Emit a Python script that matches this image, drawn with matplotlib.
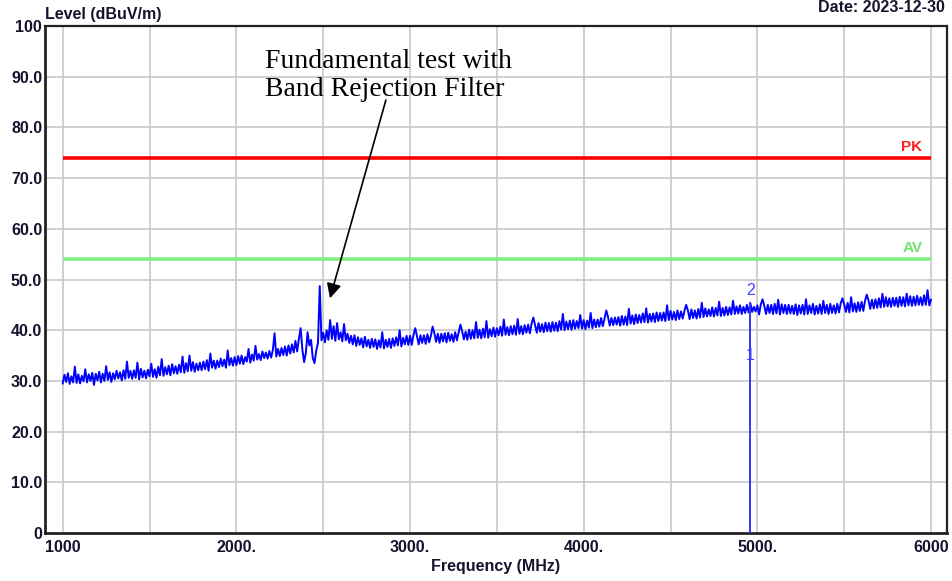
import numpy as np
import matplotlib
matplotlib.use("Agg")
import matplotlib.pyplot as plt

# ---------------- data ----------------
freq_start = 1000.0   # MHz
freq_step = 10.0      # MHz
level = [
    29.5, 31.2, 29.8, 31.5, 29.4, 30.9, 29.7, 32.8, 29.6, 31.3, 29.5, 31.0, 29.9, 32.3, 29.7, 31.3, 30.0, 31.6, 29.2, 31.4,
    30.1, 31.8, 29.7, 31.4, 30.0, 32.9, 30.2, 31.7, 29.8, 31.5, 30.3, 32.0, 30.5, 31.7, 30.1, 32.1, 30.4, 33.8, 30.6, 32.0,
    30.4, 32.1, 30.6, 33.6, 30.3, 32.4, 30.7, 32.0, 30.5, 32.2, 30.9, 33.4, 30.8, 32.3, 30.6, 32.8, 31.1, 34.3, 31.0, 32.7,
    31.3, 33.0, 31.1, 33.3, 31.5, 32.9, 31.4, 33.2, 31.7, 34.8, 31.6, 33.5, 31.9, 35.0, 32.0, 33.7, 31.8, 33.4, 32.1, 33.6,
    32.1, 33.8, 32.3, 34.1, 32.0, 35.4, 32.6, 34.0, 32.4, 34.0, 32.7, 34.4, 32.9, 34.2, 32.6, 36.0, 33.1, 34.5, 33.0, 34.7,
    33.1, 34.9, 33.4, 35.0, 33.3, 34.7, 33.8, 36.3, 33.6, 35.2, 34.0, 36.9, 34.2, 35.3, 34.1, 35.8, 34.5, 35.6, 34.4, 35.9,
    34.6, 36.1, 39.4, 34.8, 36.3, 34.9, 36.5, 35.1, 36.8, 35.0, 37.0, 35.4, 37.2, 35.6, 37.9, 35.8, 38.3, 40.4, 36.2, 33.7,
    35.5, 39.6, 37.0, 38.1, 34.5, 33.5, 36.0, 37.5, 48.7, 38.0, 39.5, 37.6, 40.0, 38.1, 42.0, 38.3, 40.8, 37.9, 41.4, 38.2,
    39.6, 37.8, 41.2, 38.0, 39.3, 37.5, 38.9, 37.2, 39.0, 36.9, 38.6, 37.1, 38.4, 36.6, 38.7, 36.8, 38.1, 36.5, 38.3, 36.7,
    38.2, 36.3, 38.0, 36.6, 39.6, 36.4, 38.1, 36.7, 38.3, 36.5, 38.4, 36.9, 38.6, 37.0, 40.0, 36.8, 38.5, 37.2, 38.9, 37.1,
    38.9, 37.1, 39.1, 40.4, 38.8, 37.2, 39.0, 37.5, 39.0, 37.3, 39.2, 37.6, 38.9, 40.7, 39.4, 37.7, 39.3, 37.5, 39.3, 37.8,
    39.4, 37.6, 39.5, 37.9, 39.2, 37.7, 39.6, 38.0, 39.6, 41.1, 39.8, 38.2, 39.7, 38.1, 40.1, 38.3, 40.0, 38.4, 41.6, 38.5,
    40.1, 38.4, 40.3, 38.6, 41.8, 38.5, 40.2, 38.8, 40.5, 38.7, 40.4, 39.0, 40.7, 38.9, 42.1, 39.1, 40.6, 39.0, 40.8, 39.2,
    40.9, 39.1, 42.2, 39.3, 40.8, 39.2, 41.0, 39.5, 41.1, 39.4, 41.3, 42.5, 41.0, 39.5, 41.4, 39.7, 41.2, 39.6, 41.5, 39.8,
    41.4, 39.7, 41.6, 39.9, 41.5, 39.8, 41.8, 40.1, 43.2, 40.0, 41.7, 40.2, 41.9, 40.1, 42.0, 40.3, 41.8, 40.4, 43.0, 40.3,
    42.0, 40.2, 41.9, 40.5, 43.4, 40.4, 42.1, 40.6, 42.1, 40.7, 42.4, 40.8, 42.3, 43.9, 42.6, 40.9, 42.4, 41.0, 42.5, 41.1,
    42.6, 40.9, 42.8, 41.1, 42.7, 41.0, 44.2, 41.3, 42.9, 41.2, 43.1, 41.4, 43.0, 41.5, 43.3, 41.6, 44.3, 41.5, 43.2, 41.7,
    43.3, 41.6, 43.5, 41.8, 43.4, 41.9, 43.5, 41.8, 44.9, 42.0, 43.8, 42.1, 43.6, 42.0, 43.9, 42.2, 43.7, 42.3, 43.8, 45.0,
    43.9, 42.2, 44.1, 42.4, 43.9, 42.3, 44.2, 42.5, 45.4, 42.6, 44.3, 42.7, 44.1, 42.8, 44.5, 42.7, 44.4, 42.9, 45.6, 42.8,
    44.4, 42.9, 44.6, 43.0, 44.5, 43.1, 45.8, 43.2, 44.7, 43.3, 44.9, 43.2, 44.6, 43.4, 45.0, 43.5, 45.3, 43.6, 44.6, 43.7,
    44.9, 43.1, 45.1, 46.1, 44.8, 43.2, 45.0, 43.4, 45.0, 43.2, 45.2, 43.3, 46.0, 43.1, 45.1, 43.4, 45.0, 43.2, 45.0, 43.3,
    44.8, 43.2, 45.1, 43.0, 44.9, 43.3, 45.0, 43.1, 46.1, 43.2, 44.9, 43.4, 45.2, 43.1, 44.8, 43.3, 45.1, 43.2, 45.8, 43.4,
    45.0, 43.2, 45.2, 43.4, 44.9, 43.3, 45.2, 43.5, 45.3, 46.3, 45.1, 43.6, 45.4, 43.5, 46.5, 43.7, 45.3, 43.6, 45.5, 43.8,
    45.6, 43.8, 45.8, 47.0, 45.9, 44.2, 46.0, 44.3, 46.1, 44.4, 46.3, 44.5, 47.2, 44.6, 46.5, 44.7, 46.3, 44.6, 46.4, 44.8,
    46.4, 44.6, 46.6, 44.8, 46.5, 44.7, 47.2, 44.9, 46.7, 44.8, 46.6, 44.9, 46.8, 45.0, 46.5, 44.9, 46.9, 45.0, 47.9, 44.9,
    46.0,
]
freq = freq_start + freq_step * np.arange(len(level))

limit_names = ["PK", "AV"]
limit_values = [74.0, 54.0]
limit_colors = ["#ff0000", "#80ee80"]
limit_text_colors = ["#ff2020", "#70e070"]

marker_freq = 4960.0
marker_labels = ["2", "1"]
marker_levels = [46.4, 35.1]
marker_line_top = 45.3

y_ticks = [0, 10, 20, 30, 40, 50, 60, 70, 80, 90, 100]
y_ticklabels = ["0", "10.0", "20.0", "30.0", "40.0", "50.0", "60.0",
                "70.0", "80.0", "90.0", "100"]
x_ticks = [1000, 2000, 3000, 4000, 5000, 6000]
x_ticklabels = ["1000", "2000.", "3000.", "4000.", "5000.", "6000"]

annotation_lines = ["Fundamental test with", "Band Rejection Filter"]
annotation_xy = (2539, 46.3)
annotation_tail = (2861, 85.4)
annotation_x = 2165
annotation_baselines = [91.8, 86.1]

# ---------------- figure ----------------
W, H = 952, 581
fig = plt.figure(figsize=(W / 100, H / 100), dpi=100)
ax = fig.add_axes([45 / W, 1 - 533 / H, (947 - 45) / W, (533 - 26) / H])

ax.set_xlim(898, 6092)
ax.set_ylim(0, 100)

# grid
for gx in np.arange(1000, 6001, 500):
    ax.axvline(gx, color="#c8c8c8", lw=1.2, zorder=0)
for gy in range(10, 100, 10):
    ax.axhline(gy, color="#c8c8c8", lw=1.2, zorder=0)

# limit lines
for name, val, c, tc in zip(limit_names, limit_values, limit_colors, limit_text_colors):
    ax.plot([1000, 6000], [val, val], color=c, lw=2.6, zorder=2, solid_capstyle="butt")
    ax.text(5950, val + 0.8, name, color=tc, fontsize=11, fontweight="bold",
            family="Liberation Sans", ha="right", va="bottom", zorder=3)

# trace
ax.plot(freq, level, color="#0000ff", lw=1.4, zorder=4)

# marker
ax.plot([marker_freq, marker_freq], [0, marker_line_top], color="#3535ff", lw=1.4, zorder=4)
for lab, lv in zip(marker_labels, marker_levels):
    ax.text(marker_freq, lv, lab, color="#4040ff", fontsize=11.5, family="Liberation Sans",
            ha="center", va="bottom" if lab == "2" else "center", zorder=5)

# annotation
ax.annotate("", xy=annotation_xy, xytext=annotation_tail,
            arrowprops=dict(arrowstyle="-|>", color="black", lw=1.2,
                            mutation_scale=22, shrinkA=0, shrinkB=0), zorder=6)
for txt, yb in zip(annotation_lines, annotation_baselines):
    ax.text(annotation_x, yb, txt, family="Liberation Serif", fontsize=20,
            ha="left", va="baseline", color="black", zorder=6)

# ticks
ax.set_yticks(y_ticks)
ax.set_yticklabels(y_ticklabels)
ax.set_xticks(x_ticks)
ax.set_xticklabels(x_ticklabels)
ax.tick_params(axis="both", length=0, labelsize=11.5, labelcolor="#14142e")
ax.tick_params(axis="y", pad=2)
ax.tick_params(axis="x", pad=5)
for lab in ax.get_xticklabels() + ax.get_yticklabels():
    lab.set_fontweight("bold")
    lab.set_family("Liberation Sans")

for s in ax.spines.values():
    s.set_color("#222222")
    s.set_linewidth(1.6)
ax.spines["left"].set_linewidth(2.0)
ax.spines["bottom"].set_linewidth(2.0)

# titles
fig.text(45 / W, 1 - 15 / H, "Level (dBuV/m)", fontsize=11.5, fontweight="bold",
         family="Liberation Sans", color="#14142e", ha="left", va="center")
fig.text(945 / W, 1 - 7 / H, "Date: 2023-12-30", fontsize=11.5, fontweight="bold",
         family="Liberation Sans", color="#14142e", ha="right", va="center")
fig.text(496 / W, 1 - 566 / H, "Frequency (MHz)", fontsize=11.5, fontweight="bold",
         family="Liberation Sans", color="#14142e", ha="center", va="center")

fig.savefig("out.png", dpi=100)
